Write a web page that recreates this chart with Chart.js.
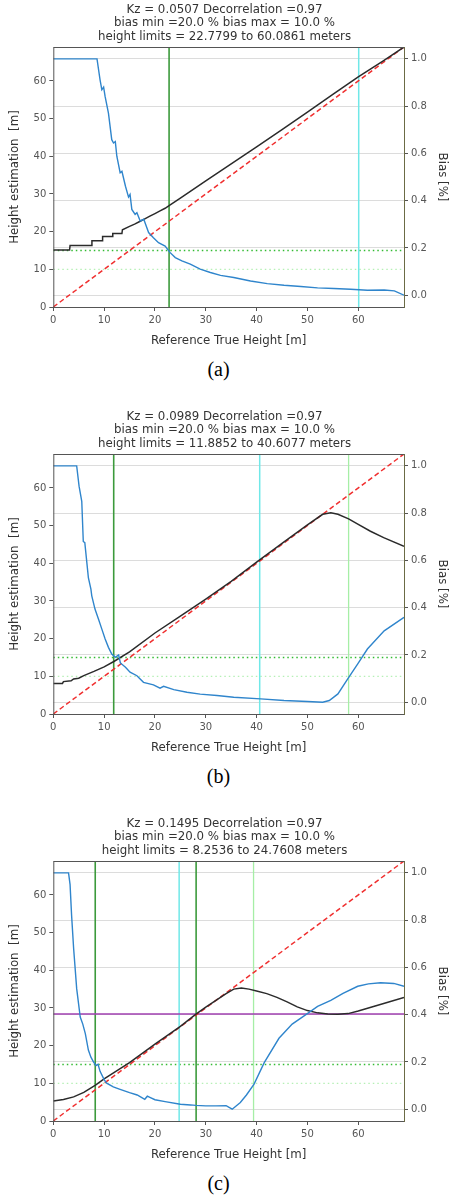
<!DOCTYPE html>
<html>
<head>
<meta charset="utf-8">
<script src="https://cdn.jsdelivr.net/npm/chart.js@4.4.1/dist/chart.umd.min.js"></script>
<style>
  body { margin: 0; background: #fff; width: 449px; height: 1199px; position: relative; overflow: hidden; }
  canvas { position: absolute; left: 0; }
  .cap { position: absolute; width: 449px; left: -6px; text-align: center; font-family: "Liberation Serif", serif; font-size: 20px; color: #000; }
</style>
</head>
<body>
<canvas id="chartA" width="449" height="350" style="top:0px"></canvas>
<canvas id="chartB" width="449" height="350" style="top:407px"></canvas>
<canvas id="chartC" width="449" height="350" style="top:814px"></canvas>
<div class="cap" style="top:358px">(a)</div>
<div class="cap" style="top:765px">(b)</div>
<div class="cap" style="top:1172px">(c)</div>
<script>
// shared axis ranges and ticks
const xTicks = [0, 10, 20, 30, 40, 50, 60];
const yTicks = [0, 10, 20, 30, 40, 50, 60];
const biasTicks = [0, 0.2, 0.4, 0.6, 0.8, 1.0];
const refLineX = [0, 69];
const biasMinLine = 15;   // dark green dotted
const biasMaxLine = 10;   // light green dotted

// (a) Kz = 0.0507
const titleA = ["Kz = 0.0507 Decorrelation =0.97", "bias min =20.0 % bias max = 10.0 %", "height limits = 22.7799 to 60.0861 meters"];
const estXA = [0, 3.2, 3.3, 7.5, 7.6, 9.6, 9.7, 11.6, 11.7, 13.5, 13.6, 15, 16, 17, 18, 19, 20, 21, 22, 23, 25, 30, 35, 40, 45, 50, 55, 60, 65, 69];
const estA = [15.1, 15.1, 16.3, 16.3, 17.6, 17.6, 18.7, 18.7, 19.5, 19.5, 20.5, 21.4, 22, 22.7, 23.4, 24.1, 24.8, 25.5, 26.2, 27.1, 28.9, 33.5, 38, 42.5, 47.1, 51.7, 56.4, 61.1, 65.4, 69];
const biasXA = [0, 8.6, 9.2, 9.55, 9.9, 10.2, 10.85, 11.5, 11.85, 12.2, 12.5, 13.15, 13.5, 14.2, 14.8, 15.1, 15.45, 16.1, 16.45, 17.1, 17.8, 18.75, 19.7, 20.7, 22, 23, 24, 25.3, 26.95, 28.9, 30.9, 32.9, 35.5, 38.8, 42.1, 45.4, 48.7, 52, 55.2, 58.5, 61.8, 65.1, 67.1, 69];
const biasA = [1.0, 1.0, 0.911, 0.869, 0.88, 0.84, 0.77, 0.658, 0.644, 0.65, 0.588, 0.518, 0.524, 0.461, 0.415, 0.426, 0.363, 0.342, 0.349, 0.314, 0.321, 0.265, 0.243, 0.222, 0.208, 0.18, 0.159, 0.145, 0.131, 0.11, 0.096, 0.084, 0.075, 0.06, 0.049, 0.042, 0.037, 0.031, 0.028, 0.025, 0.021, 0.022, 0.018, 0.0];
const darkGreenA = [22.78];
const cyanA = [60.09];
const lightGreenA = [];
const purpleA = [];

// (b) Kz = 0.0989
const titleB = ["Kz = 0.0989 Decorrelation =0.97", "bias min =20.0 % bias max = 10.0 %", "height limits = 11.8852 to 40.6077 meters"];
const estXB = [0, 1.8, 2, 3.5, 4, 5, 6, 8, 10, 12, 15, 20, 25, 30, 35, 40, 45, 50, 53, 54.6, 56, 58.1, 60, 62.4, 65, 69];
const estB = [8.1, 8.1, 8.6, 8.8, 9.3, 9.5, 10.2, 11.3, 12.5, 14, 16.5, 21.5, 26, 30.5, 35.2, 40.3, 45.3, 50.2, 53, 53.4, 53, 51.8, 50.3, 48.5, 46.8, 44.5];
const biasXB = [0, 4.6, 5.07, 5.6, 5.9, 6.2, 6.9, 7.4, 7.57, 8.2, 8.9, 9.55, 10.2, 10.85, 11.5, 12.2, 12.85, 13.2, 14.2, 15.1, 16.45, 17.75, 19.7, 21, 21.7, 23.7, 26.3, 28.9, 32.2, 35.5, 40.8, 45.4, 50, 53, 54.3, 56, 57.9, 59.9, 61.8, 65.1, 69];
const biasB = [1.0, 1.0, 0.914, 0.85, 0.68, 0.675, 0.527, 0.478, 0.45, 0.394, 0.351, 0.309, 0.267, 0.232, 0.204, 0.19, 0.2, 0.166, 0.148, 0.127, 0.112, 0.084, 0.073, 0.059, 0.067, 0.053, 0.042, 0.034, 0.028, 0.021, 0.014, 0.007, 0.003, 0.0, 0.007, 0.035, 0.098, 0.162, 0.225, 0.302, 0.359];
const darkGreenB = [11.885];
const cyanB = [40.61];
const lightGreenB = [58.1];
const purpleB = [];

// (c) Kz = 0.1495
const titleC = ["Kz = 0.1495 Decorrelation =0.97", "bias min =20.0 % bias max = 10.0 %", "height limits = 8.2536 to 24.7608 meters"];
const estXC = [0, 2, 4, 6, 8.3, 10, 12, 15, 20, 25, 28, 30, 32, 34, 35.5, 37, 38.5, 40, 42, 44, 46, 48, 50, 52, 54, 56, 58, 60, 62, 64, 66, 69];
const estC = [5.3, 5.7, 6.4, 7.6, 9.5, 11.2, 12.9, 15.5, 20.4, 25.1, 28.3, 30.2, 32, 33.8, 35, 35.3, 35, 34.5, 33.8, 32.8, 31.6, 30.3, 29.3, 28.7, 28.4, 28.3, 28.5, 29.2, 30, 30.8, 31.6, 32.8];
const biasXC = [0, 3.0, 3.3, 3.6, 4.0, 4.6, 5.3, 5.8, 6.3, 6.9, 7.4, 7.9, 8.4, 8.8, 9.2, 10, 10.5, 11.8, 13, 15, 16.5, 17.5, 18, 18.5, 19, 20, 22, 25, 27, 28, 30, 32, 34, 35.2, 36.8, 38, 39.5, 41.5, 44.4, 47, 49.7, 52, 54.6, 57, 59.9, 62, 64.4, 67, 69];
const biasC = [1.0, 1.0, 0.95, 0.82, 0.68, 0.51, 0.39, 0.36, 0.32, 0.25, 0.22, 0.2, 0.185, 0.19, 0.16, 0.125, 0.11, 0.094, 0.085, 0.07, 0.06, 0.048, 0.042, 0.055, 0.05, 0.04, 0.032, 0.021, 0.018, 0.016, 0.014, 0.014, 0.015, 0.0, 0.028, 0.06, 0.106, 0.197, 0.3, 0.36, 0.4, 0.435, 0.46, 0.49, 0.52, 0.53, 0.535, 0.532, 0.52];
const darkGreenC = [8.25, 28.1];
const cyanC = [24.76];
const lightGreenC = [39.4];
const purpleC = [28.4];

const pts = (xs, ys) => xs.map((x, i) => ({x: x, y: ys[i]}));
const vline = (x) => [{x: x, y: 0}, {x: x, y: 69}];
const hline = (y) => [{x: 0, y: y}, {x: 69, y: y}];

const tickFont = {family: "DejaVu Sans", size: 10};
const labelFont = {family: "DejaVu Sans", size: 11.8, lineHeight: 1.2};

const framePlugin = {
  id: 'frame',
  afterDatasetsDraw(chart) {
    const a = chart.chartArea, c = chart.ctx;
    c.save();
    c.lineWidth = 1;
    c.strokeStyle = '#555';
    c.beginPath();
    c.moveTo(a.left + 0.5, a.top + 0.5); c.lineTo(a.right, a.top + 0.5);
    c.moveTo(a.left + 0.5, a.top); c.lineTo(a.left + 0.5, a.bottom);
    c.moveTo(a.left, a.bottom + 0.5); c.lineTo(a.right, a.bottom + 0.5);
    c.stroke();
    c.strokeStyle = '#6b6b45';
    c.beginPath();
    c.moveTo(a.right + 0.5, a.top); c.lineTo(a.right + 0.5, a.bottom + 1);
    c.stroke();
    c.restore();
  }
};

function lineSet(data, color, width, extra) {
  return Object.assign({data: data, borderColor: color, borderWidth: width, pointRadius: 0, tension: 0, yAxisID: 'y', fill: false}, extra || {});
}

function makePanel(id, title, estX, est, biasX, bias, darkGreen, cyan, lightGreen, purple) {
  const datasets = [];
  datasets.push(lineSet(pts(biasX, bias), '#2f85cc', 1.4, {yAxisID: 'y1'}));
  datasets.push(lineSet(pts(estX, est), '#2b2b2b', 1.5));
  datasets.push(lineSet(pts(refLineX, refLineX), '#f03030', 1.5, {borderDash: [5, 3]}));
  purple.forEach(v => datasets.push(lineSet(hline(v), '#a040b0', 1.3)));
  darkGreen.forEach(v => datasets.push(lineSet(vline(v), '#3c9a3c', 1.6)));
  cyan.forEach(v => datasets.push(lineSet(vline(v), '#70e8e8', 1.5)));
  lightGreen.forEach(v => datasets.push(lineSet(vline(v), '#a6eea6', 1.3)));
  datasets.push(lineSet(hline(biasMinLine), '#33bb33', 1.5, {borderDash: [1.5, 3]}));
  datasets.push(lineSet(hline(biasMaxLine), '#b5f0b5', 1.3, {borderDash: [1.5, 3]}));

  new Chart(document.getElementById(id), {
    type: 'line',
    data: {datasets: datasets},
    options: {
      responsive: false,
      animation: false,
      plugins: {
        legend: {display: false},
        tooltip: {enabled: false},
        title: {
          display: true,
          text: title,
          color: '#333',
          font: {family: "DejaVu Sans", size: 11.8, weight: 'normal', lineHeight: 1.15},
          padding: {top: 3, bottom: 3.3}
        }
      },
      scales: {
        x: {
          type: 'linear', min: 0, max: 69,
          afterBuildTicks: s => { s.ticks = xTicks.map(v => ({value: v})); },
          afterFit: s => { s.height = 43; },
          ticks: {color: '#555', font: tickFont, padding: 3, maxRotation: 0},
          grid: {display: true, drawOnChartArea: false, tickLength: 4, tickColor: '#555'},
          border: {display: false},
          title: {display: true, text: 'Reference True Height [m]', color: '#333', font: labelFont, padding: {top: 0, bottom: 2}}
        },
        y: {
          type: 'linear', position: 'left', min: 0, max: 69,
          afterBuildTicks: s => { s.ticks = yTicks.map(v => ({value: v})); },
          afterFit: s => { s.width = 53.3; },
          ticks: {color: '#555', font: tickFont, padding: 3},
          grid: {display: true, drawOnChartArea: false, tickLength: 4, tickColor: '#555'},
          border: {display: false},
          title: {display: true, text: 'Height estimation  [m]', color: '#333', font: labelFont, padding: {top: 8, bottom: 0}}
        },
        y1: {
          type: 'linear', position: 'right', min: -0.05, max: 1.05,
          afterBuildTicks: s => { s.ticks = biasTicks.map(v => ({value: v})); },
          afterFit: s => { s.width = 45; },
          ticks: {color: '#555', font: tickFont, padding: 3, callback: v => v.toFixed(1)},
          grid: {display: true, drawOnChartArea: true, color: '#dcdcdc', lineWidth: 1, tickLength: 4, tickColor: '#555'},
          border: {display: false},
          title: {display: true, text: 'Bias [%]', color: '#333', font: labelFont, padding: {top: 0, bottom: 0}}
        }
      }
    },
    plugins: [framePlugin]
  });
}

makePanel('chartA', titleA, estXA, estA, biasXA, biasA, darkGreenA, cyanA, lightGreenA, purpleA);
makePanel('chartB', titleB, estXB, estB, biasXB, biasB, darkGreenB, cyanB, lightGreenB, purpleB);
makePanel('chartC', titleC, estXC, estC, biasXC, biasC, darkGreenC, cyanC, lightGreenC, purpleC);
</script>
</body>
</html>
